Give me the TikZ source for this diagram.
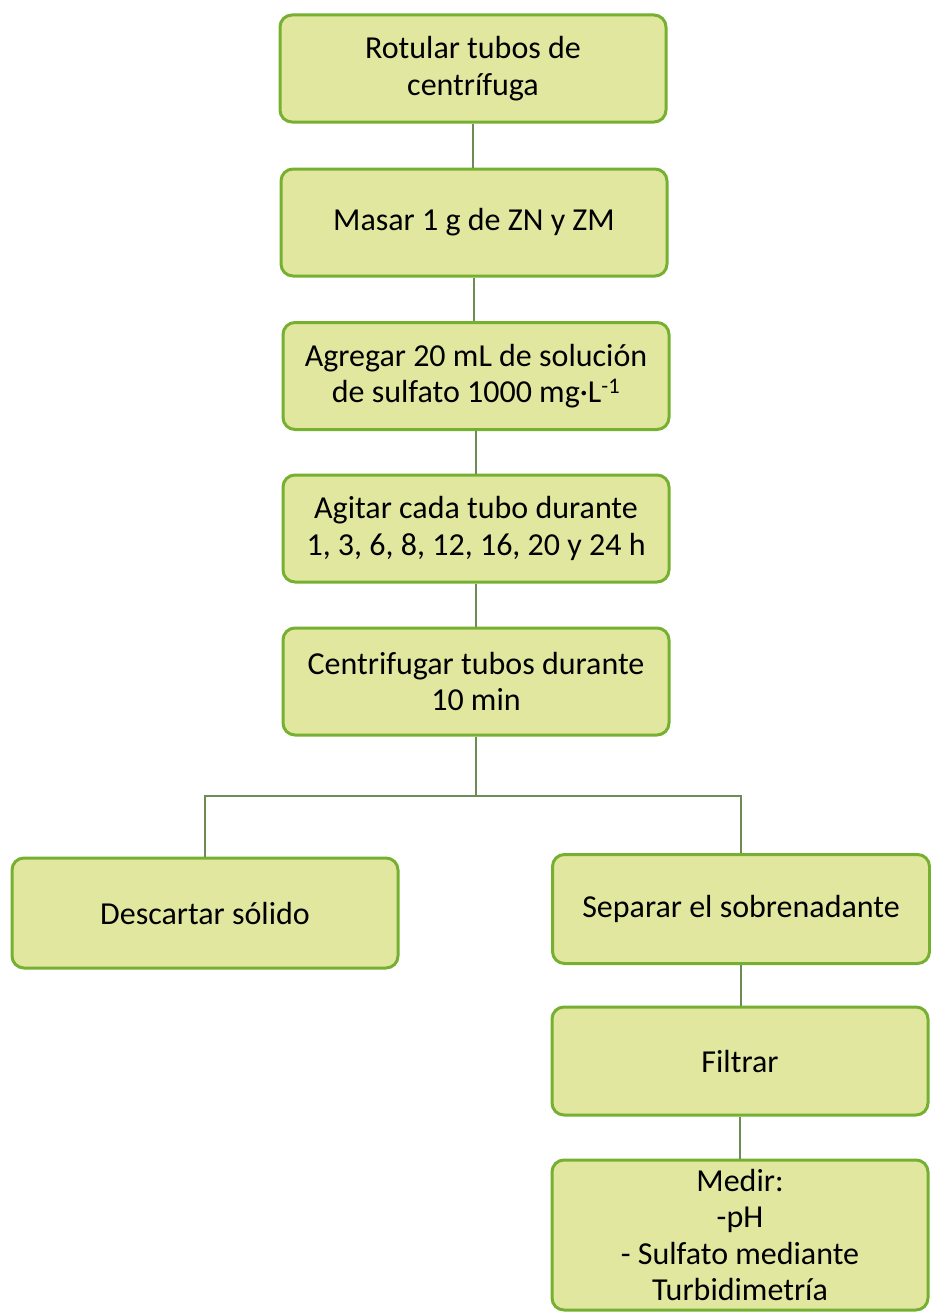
\documentclass[tikz,border=0pt]{standalone}
\usepackage{fontspec}
\setmainfont{Carlito}
\definecolor{boxfill}{RGB}{226,231,160}
\definecolor{boxedge}{RGB}{118,176,48}
\definecolor{linkcol}{RGB}{108,140,84}
\begin{document}
\begin{tikzpicture}[x=1pt,y=-1pt,
  stepbox/.style={draw=boxedge, line width=3pt, fill=boxfill, rounded corners=12pt,
    minimum width=386pt, minimum height=107pt, align=center,
    font=\fontsize{32}{36.5}\selectfont, inner sep=2pt},
  link/.style={draw=linkcol, line width=2.4pt}]
\useasboundingbox (0,0) rectangle (931,1314);

% main column
\node[stepbox] (b1) at (473,68.5) {Rotular tubos de\\centrífuga};
\node[stepbox] (b2) at (474,222.5) {Masar 1 g de ZN y ZM};
\node[stepbox] (b3) at (476,376) {Agregar 20 mL de solución\\de sulfato 1000 mg·L\textsuperscript{-1}};
\node[stepbox] (b4) at (476,528.5) {Agitar cada tubo durante\\1, 3, 6, 8, 12, 16, 20 y 24 h};
\node[stepbox] (b5) at (476,681.5) {Centrifugar tubos durante\\10 min};

% branches
\coordinate (bar) at (476,796);
\node[stepbox, minimum width=386pt, minimum height=110pt] (left) at (205,913) {Descartar sólido};
\node[stepbox, minimum width=377pt, minimum height=109pt] (right) at (741,909) {Separar el sobrenadante};
\node[stepbox, minimum width=376pt, minimum height=108pt] (filt) at (740,1061) {Filtrar};
\node[stepbox, minimum width=376pt, minimum height=150pt] (medir) at (740,1235) {Medir:\\-pH\\- Sulfato mediante\\Turbidimetría};

% connectors
\path[link] (b1.south) -- (b1.south |- b2.north);
\path[link] (b2.south) -- (b2.south |- b3.north);
\path[link] (b3.south) -- (b3.south |- b4.north);
\path[link] (b4.south) -- (b4.south |- b5.north);
\path[link] (b5.south) -- (bar);
\path[link] (left.north) |- (bar) -| (right.north);
\path[link] (right.south) -- (right.south |- filt.north);
\path[link] (filt.south) -- (filt.south |- medir.north);
\end{tikzpicture}
\end{document}
